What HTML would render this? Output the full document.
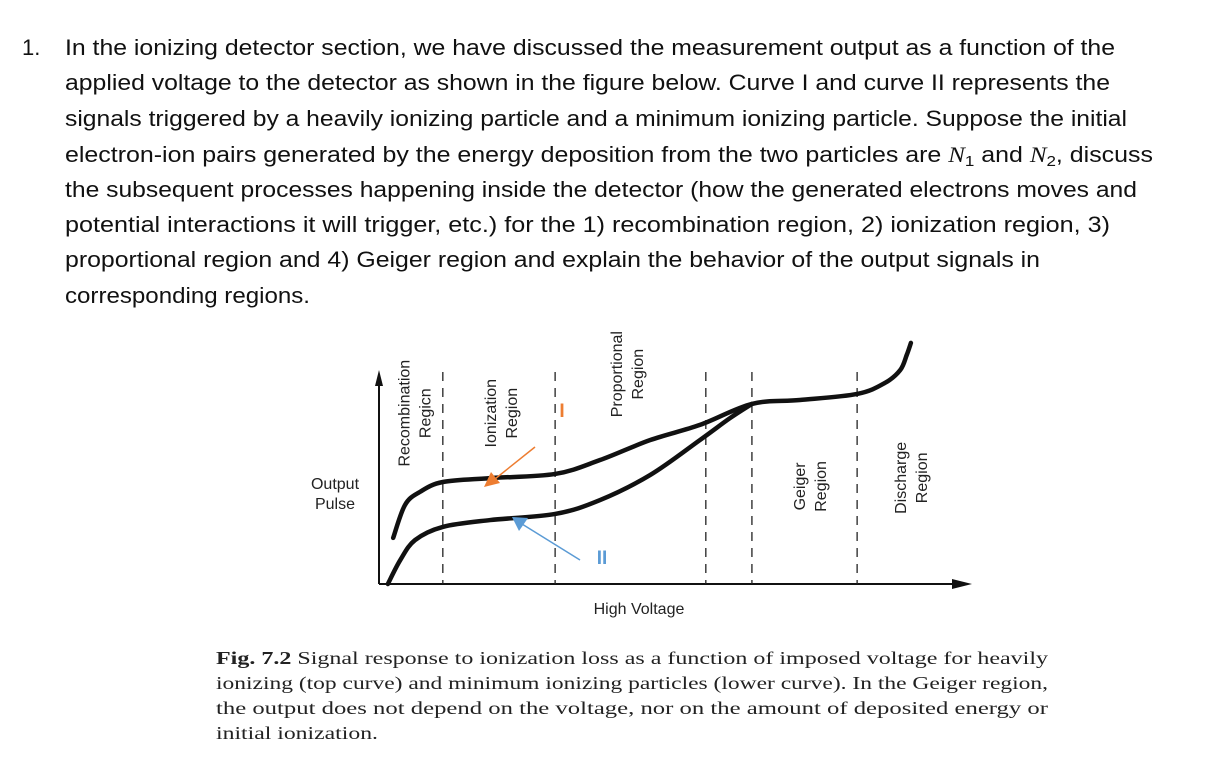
<!DOCTYPE html>
<html><head><meta charset="utf-8"><style>
html,body{margin:0;padding:0;background:#fff;width:1227px;height:762px;overflow:hidden}
svg{display:block}
.p{font-family:"Liberation Sans",sans-serif;font-size:22px;fill:#111}
.c{font-family:"Liberation Serif",serif;font-size:18px;fill:#222}
.lab{font-family:"Liberation Sans",sans-serif;font-size:16px;fill:#222}
</style></head><body>
<svg id="fig" width="1227" height="762" viewBox="0 0 1227 762">
<g>
<text class="p" x="22" y="55">1.</text>
<text class="p" x="65" y="55" textLength="1050" lengthAdjust="spacingAndGlyphs">In the ionizing detector section, we have discussed the measurement output as a function of the</text>
<text class="p" x="65" y="90" textLength="1045" lengthAdjust="spacingAndGlyphs">applied voltage to the detector as shown in the figure below. Curve I and curve II represents the</text>
<text class="p" x="65" y="126" textLength="1062" lengthAdjust="spacingAndGlyphs">signals triggered by a heavily ionizing particle and a minimum ionizing particle. Suppose the initial</text>
<text class="p" x="65" y="162" textLength="1088" lengthAdjust="spacingAndGlyphs">electron-ion pairs generated by the energy deposition from the two particles are <tspan font-style="italic" font-family="Liberation Serif">N</tspan><tspan font-size="15" dy="4">1</tspan><tspan dy="-4"> and </tspan><tspan font-style="italic" font-family="Liberation Serif">N</tspan><tspan font-size="15" dy="4">2</tspan><tspan dy="-4">, discuss</tspan></text>
<text class="p" x="65" y="197" textLength="1072" lengthAdjust="spacingAndGlyphs">the subsequent processes happening inside the detector (how the generated electrons moves and</text>
<text class="p" x="65" y="232" textLength="1045" lengthAdjust="spacingAndGlyphs">potential interactions it will trigger, etc.) for the 1) recombination region, 2) ionization region, 3)</text>
<text class="p" x="65" y="267" textLength="975" lengthAdjust="spacingAndGlyphs">proportional region and 4) Geiger region and explain the behavior of the output signals in</text>
<text class="p" x="65" y="303" textLength="245" lengthAdjust="spacingAndGlyphs">corresponding regions.</text>
</g>
<g id="chart"></g>
<g>
<text class="c" x="216" y="664" textLength="832" lengthAdjust="spacingAndGlyphs"><tspan font-weight="bold">Fig. 7.2</tspan>  Signal response to ionization loss as a function of imposed voltage for heavily</text>
<text class="c" x="216" y="689" textLength="832" lengthAdjust="spacingAndGlyphs">ionizing (top curve) and minimum ionizing particles (lower curve). In the Geiger region,</text>
<text class="c" x="216" y="714" textLength="832" lengthAdjust="spacingAndGlyphs">the output does not depend on the voltage, nor on the amount of deposited energy or</text>
<text class="c" x="216" y="739" textLength="162" lengthAdjust="spacingAndGlyphs">initial ionization.</text>
</g>
</svg>
<script>
const curveIX=[2.4,4.4,6.9,10.8,18.8,29.8,37.4,45.9,54.3,63.1,71.2,80.9,85.6,88.2,89.3,90.0];
const curveIY=[18.9,32.4,37.7,41.8,43.4,45.1,50.8,59.0,65.2,73.8,75.4,77.9,82.4,87.7,93.9,98.8];
const curveIIX=[1.5,3.6,6.1,10.8,18.8,29.8,37.4,45.9,54.3,59.4,63.1];
const curveIIY=[0,9.8,18.0,23.4,26.2,28.7,34.4,44.7,59.0,68.0,73.8];
const boundaries=[10.8,29.8,55.3,63.1,80.9];
const regionNames=[["Recombination","Regicn"],["Ionization","Region"],["Proportional","Region"],["Geiger","Region"],["Discharge","Region"]];
const regionX=[5.2,19.8,41.1,72.1,89.2];
const regionY=[70,70,86,40,43.5];

const X0=379,X1=970,Y0=584,Y1=340;
const sx=v=>X0+(X1-X0)*v/100, sy=v=>Y0-(Y0-Y1)*v/100;
const g=document.getElementById('chart');
const NS='http://www.w3.org/2000/svg';
function mk(t,a){const e=document.createElementNS(NS,t);for(const k in a)e.setAttribute(k,a[k]);g.appendChild(e);return e;}
let e;
e=mk('line',{x1:X0,y1:Y0,x2:X0,y2:382,stroke:'#111','stroke-width':2});


e=mk('polygon',{points:`${X0-4},386 ${X0+4},386 ${X0},370`,fill:'#111'});


e=mk('line',{x1:X0,y1:Y0,x2:955,y2:Y0,stroke:'#111','stroke-width':2});


e=mk('polygon',{points:`952,579 952,589 972,584`,fill:'#111'});


boundaries.forEach((b,i)=>{
  const l=mk('line',{x1:sx(b),y1:372,x2:sx(b),y2:Y0,stroke:'#222','stroke-width':1.3,'stroke-dasharray':'9,7'});
  
  
});
regionNames.forEach((n,i)=>{
  const x=sx(regionX[i]),y=sy(regionY[i]);
  const t=mk('text',{class:'lab','text-anchor':'middle',transform:`translate(${x},${y}) rotate(-90)`});
  
  
  n.forEach((s,j)=>{const ts=document.createElementNS(NS,'tspan');ts.setAttribute('x',0);ts.setAttribute('y',j*21);ts.textContent=s;t.appendChild(ts);});
});
function path(xs,ys){
  const p=xs.map((v,i)=>[sx(v),sy(ys[i])]);
  let d=`M${p[0][0]},${p[0][1]}`;
  for(let i=0;i<p.length-1;i++){
    const p0=p[Math.max(0,i-1)],p1=p[i],p2=p[i+1],p3=p[Math.min(p.length-1,i+2)];
    d+=` C${p1[0]+(p2[0]-p0[0])/6},${p1[1]+(p2[1]-p0[1])/6} ${p2[0]-(p3[0]-p1[0])/6},${p2[1]-(p3[1]-p1[1])/6} ${p2[0]},${p2[1]}`;
  }
  return d;
}
e=mk('path',{d:path(curveIX,curveIY),fill:'none',stroke:'#111','stroke-width':4.5,'stroke-linecap':'round'});


e=mk('path',{d:path(curveIIX,curveIIY),fill:'none',stroke:'#111','stroke-width':4.5,'stroke-linecap':'round'});


e=mk('text',{class:'lab',x:335,y:489,'text-anchor':'middle','font-size':16});e.textContent='Output';


e=mk('text',{class:'lab',x:335,y:509,'text-anchor':'middle','font-size':16});e.textContent='Pulse';


e=mk('text',{class:'lab',x:639,y:614,'text-anchor':'middle','font-size':16});e.textContent='High Voltage';


e=mk('line',{x1:535,y1:447,x2:495,y2:479,stroke:'#ED7D31','stroke-width':1.5});


e=mk('polygon',{points:'484,487 491,472 500,483',fill:'#ED7D31'});


e=mk('line',{x1:580,y1:560,x2:522,y2:524,stroke:'#5B9BD5','stroke-width':1.5});


e=mk('polygon',{points:'512,517 528,518 519,531',fill:'#5B9BD5'});


e=mk('text',{x:562,y:417,'text-anchor':'middle',fill:'#ED7D31','font-family':'Liberation Sans, sans-serif','font-size':19,'font-weight':'bold'});e.textContent='I';


e=mk('text',{x:602,y:564,'text-anchor':'middle',fill:'#5B9BD5','font-family':'Liberation Sans, sans-serif','font-size':19,'font-weight':'bold'});e.textContent='II';


</script>
</body></html>
